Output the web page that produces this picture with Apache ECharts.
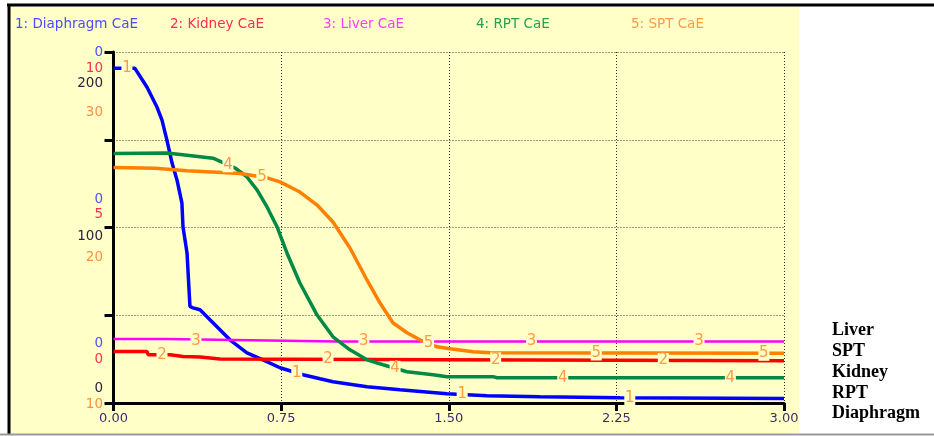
<!DOCTYPE html>
<html>
<head>
<meta charset="utf-8">
<script src="https://cdn.jsdelivr.net/npm/echarts@6/dist/echarts.min.js"></script>
<style>
html,body{margin:0;padding:0;background:#fff;}
#chart{width:934px;height:436px;}
</style>
</head>
<body>
<div id="chart"></div>
<script>
// ---------- DATA ----------
const seriesNames = ['Diaphragm CaE', 'Kidney CaE', 'Liver CaE', 'RPT CaE', 'SPT CaE'];
const sideNames = ['Liver', 'SPT', 'Kidney', 'RPT', 'Diaphragm'];
const xTicks = [0, 0.75, 1.5, 2.25, 3.0];

// scale labels shown on the left (top / middle / bottom)
const scaleDiaphragm = ['0', '0', '0'];
const scaleKidney = ['10', '5', '0'];
const scaleRPT = ['200', '100', '0'];
const scaleSPT = ['30', '20', '10'];

// [time, value]
const diaphragm = [
  [0, 190.7], [0.096, 190.7], [0.15, 179.9], [0.195, 168.5], [0.217, 161.2], [0.239, 149.8],
  [0.262, 136.7], [0.284, 127.1], [0.306, 114.0], [0.311, 100.3], [0.329, 85.5], [0.342, 55.0],
  [0.356, 54.2], [0.387, 53.1], [0.445, 45.7], [0.521, 36.0], [0.597, 28.6], [0.669, 24.6],
  [0.745, 20.1], [0.848, 16.1], [0.924, 13.8], [0.982, 12.1], [1.134, 9.3], [1.282, 7.6],
  [1.492, 5.3], [1.671, 4.2], [1.908, 3.6], [2.266, 3.0], [3.0, 2.6]
];
const kidney = [
  [0, 1.468], [0.150, 1.468], [0.155, 1.374], [0.253, 1.374], [0.311, 1.325], [0.388, 1.308],
  [0.476, 1.251], [1.47, 1.231], [3.0, 1.203]
];
const liver = [
  [0, 1.82], [0.235, 1.82], [0.24, 1.78], [1.0, 1.755], [3.0, 1.752]
];
const rpt = [
  [0, 142.2], [0.239, 142.4], [0.329, 141.2], [0.445, 139.5], [0.485, 137.3], [0.544, 133.9],
  [0.597, 128.8], [0.642, 121.4], [0.687, 111.7], [0.732, 100.3], [0.776, 85.5], [0.834, 68.4],
  [0.911, 50.1], [0.982, 37.7], [1.058, 30.3], [1.134, 24.6], [1.206, 21.8], [1.313, 17.8],
  [1.430, 16.1], [1.492, 15.0], [1.698, 15.0], [1.716, 14.4], [3.0, 14.4]
];
const spt = [
  [0, 23.42], [0.186, 23.37], [0.329, 23.23], [0.485, 23.14], [0.566, 23.08], [0.687, 22.83],
  [0.745, 22.60], [0.834, 22.02], [0.911, 21.28], [0.982, 20.31], [1.058, 18.83], [1.134, 17.01],
  [1.192, 15.71], [1.250, 14.57], [1.313, 14.00], [1.371, 13.60], [1.447, 13.20], [1.506, 13.09],
  [1.609, 12.92], [1.685, 12.86], [3.0, 12.83]
];
// times at which the pen number is written on each curve
const labelTimes = [
  [0.06, 0.82, 1.56, 2.31],
  [0.217, 0.96, 1.71, 2.46],
  [0.369, 1.12, 1.87, 2.62],
  [0.512, 1.26, 2.01, 2.76],
  [0.664, 1.41, 2.16, 2.91]
];

// ---------- STYLE ----------
const BG = '#ffffc8';
const FONT = 'DejaVu Sans';
const lineColors = ['#0000ff', '#ff0000', '#ff00ff', '#008a45', '#ff8000'];
const lineWidths = [3.5, 3.5, 2.5, 3.5, 3.5];
const legendColors = ['#4b4bff', '#ff2a55', '#ff3cff', '#24a050', '#ff9a45'];
const legendX = [15, 170, 323, 476, 631];
const numColor = '#ff9a45';
const scaleColors = ['#5050ff', '#ff3050', '#302040', '#ff9040'];
const GRID = {left: 113.5, right: 150, top: 52, bottom: 33};
const yAxisOf = [0, 1, 1, 0, 2];
const seriesData = [diaphragm, kidney, liver, rpt, spt];
const gridLine = {color: '#333', type: [1, 2], width: 1};

function interp(data, t) {
  for (let i = 1; i < data.length; i++) {
    if (t <= data[i][0]) {
      const a = data[i - 1], b = data[i];
      const f = (t - a[0]) / (b[0] - a[0] || 1);
      return a[1] + f * (b[1] - a[1]);
    }
  }
  return data[data.length - 1][1];
}

const chart = echarts.init(document.getElementById('chart'), null, {renderer: 'canvas'});

const series = seriesData.map((d, k) => ({
  name: seriesNames[k],
  type: 'line',
  data: d,
  yAxisIndex: yAxisOf[k],
  showSymbol: false,
  symbol: 'none',
  animation: false,
  z: 3 + k,
  lineStyle: {color: lineColors[k], width: lineWidths[k]},
  itemStyle: {color: lineColors[k]},
  markPoint: {
    animation: false,
    z: 30,
    symbol: 'rect',
    symbolSize: [11, 15],
    itemStyle: {color: BG},
    label: {show: true, position: 'inside', color: numColor, fontFamily: FONT, fontSize: 15, formatter: String(k + 1)},
    data: labelTimes[k].map(t => ({coord: [t, interp(d, t)], value: k + 1}))
  }
}));

const hiddenY = (min, max) => ({
  type: 'value', min: min, max: max, show: false, splitLine: {show: false}
});

chart.setOption({
  animation: false,
  backgroundColor: '#ffffff',
  grid: GRID,
  xAxis: {
    type: 'value', min: 0, max: 3, interval: 0.75,
    axisLine: {lineStyle: {color: '#000', width: 3}},
    axisTick: {show: true, length: 8, lineStyle: {color: '#000', width: 3}},
    axisLabel: {color: '#3a3060', fontFamily: FONT, fontSize: 13, margin: 9,
      formatter: v => v.toFixed(2)},
    splitLine: {show: true, lineStyle: gridLine}
  },
  yAxis: [
    {
      type: 'value', min: 0, max: 200, interval: 50,
      axisLine: {show: true, lineStyle: {color: '#000', width: 3}},
      axisTick: {show: true, length: 9, lineStyle: {color: '#000', width: 3}},
      axisLabel: {show: false},
      splitLine: {show: true, lineStyle: gridLine}
    },
    hiddenY(0, 10),
    hiddenY(10, 30)
  ],
  series: series
});

// background & frame & texts
function buildGraphics() {
  const g = [];
  g.push({type: 'rect', z: -10, silent: true, shape: {x: 10, y: 7, width: 789, height: 426}, style: {fill: BG}});
  g.push({type: 'line', z: 100, shape: {x1: 7, y1: 5, x2: 934, y2: 5}, style: {stroke: '#000', lineWidth: 3}});
  g.push({type: 'line', z: 100, shape: {x1: 9, y1: 5, x2: 9, y2: 434}, style: {stroke: '#000', lineWidth: 3}});
  g.push({type: 'line', z: 100, shape: {x1: 0, y1: 434.5, x2: 934, y2: 434.5}, style: {stroke: '#999', lineWidth: 2}});
  // legend
  seriesNames.forEach((n, k) => {
    g.push({type: 'text', z: 50, x: legendX[k], y: 24,
      style: {text: (k + 1) + ': ' + n, fill: legendColors[k], font: '13.5px "' + FONT + '"', textVerticalAlign: 'middle'}});
  });
  // side names
  const sideY = [330, 351, 372, 393, 413];
  sideNames.forEach((n, i) => {
    g.push({type: 'text', z: 50, x: 832, y: sideY[i],
      style: {text: n, fill: '#000', font: 'bold 18px "Liberation Serif"', textVerticalAlign: 'middle', textAlign: 'left'}});
  });
  // scale labels
  const scales = [scaleDiaphragm, scaleKidney, scaleRPT, scaleSPT];
  const offsets = [
    [0, 16, 31, 60],     // top group relative to top tick
    [-28, -13, 9, 30],   // middle group relative to middle tick
    [-60, -44, -15, 1]   // bottom group relative to bottom tick
  ];
  const bases = [0, 100, 200].map(v => chart.convertToPixel({yAxisIndex: 0}, 200 - v));
  for (let gi = 0; gi < 3; gi++) {
    scales.forEach((s, si) => {
      g.push({type: 'text', z: 50, x: 103, y: bases[gi] + offsets[gi][si],
        style: {text: s[gi], fill: scaleColors[si], font: '13.5px "' + FONT + '"', textAlign: 'right', textVerticalAlign: 'middle'}});
    });
  }
  return g;
}
chart.setOption({graphic: buildGraphics()});
</script>
</body>
</html>
